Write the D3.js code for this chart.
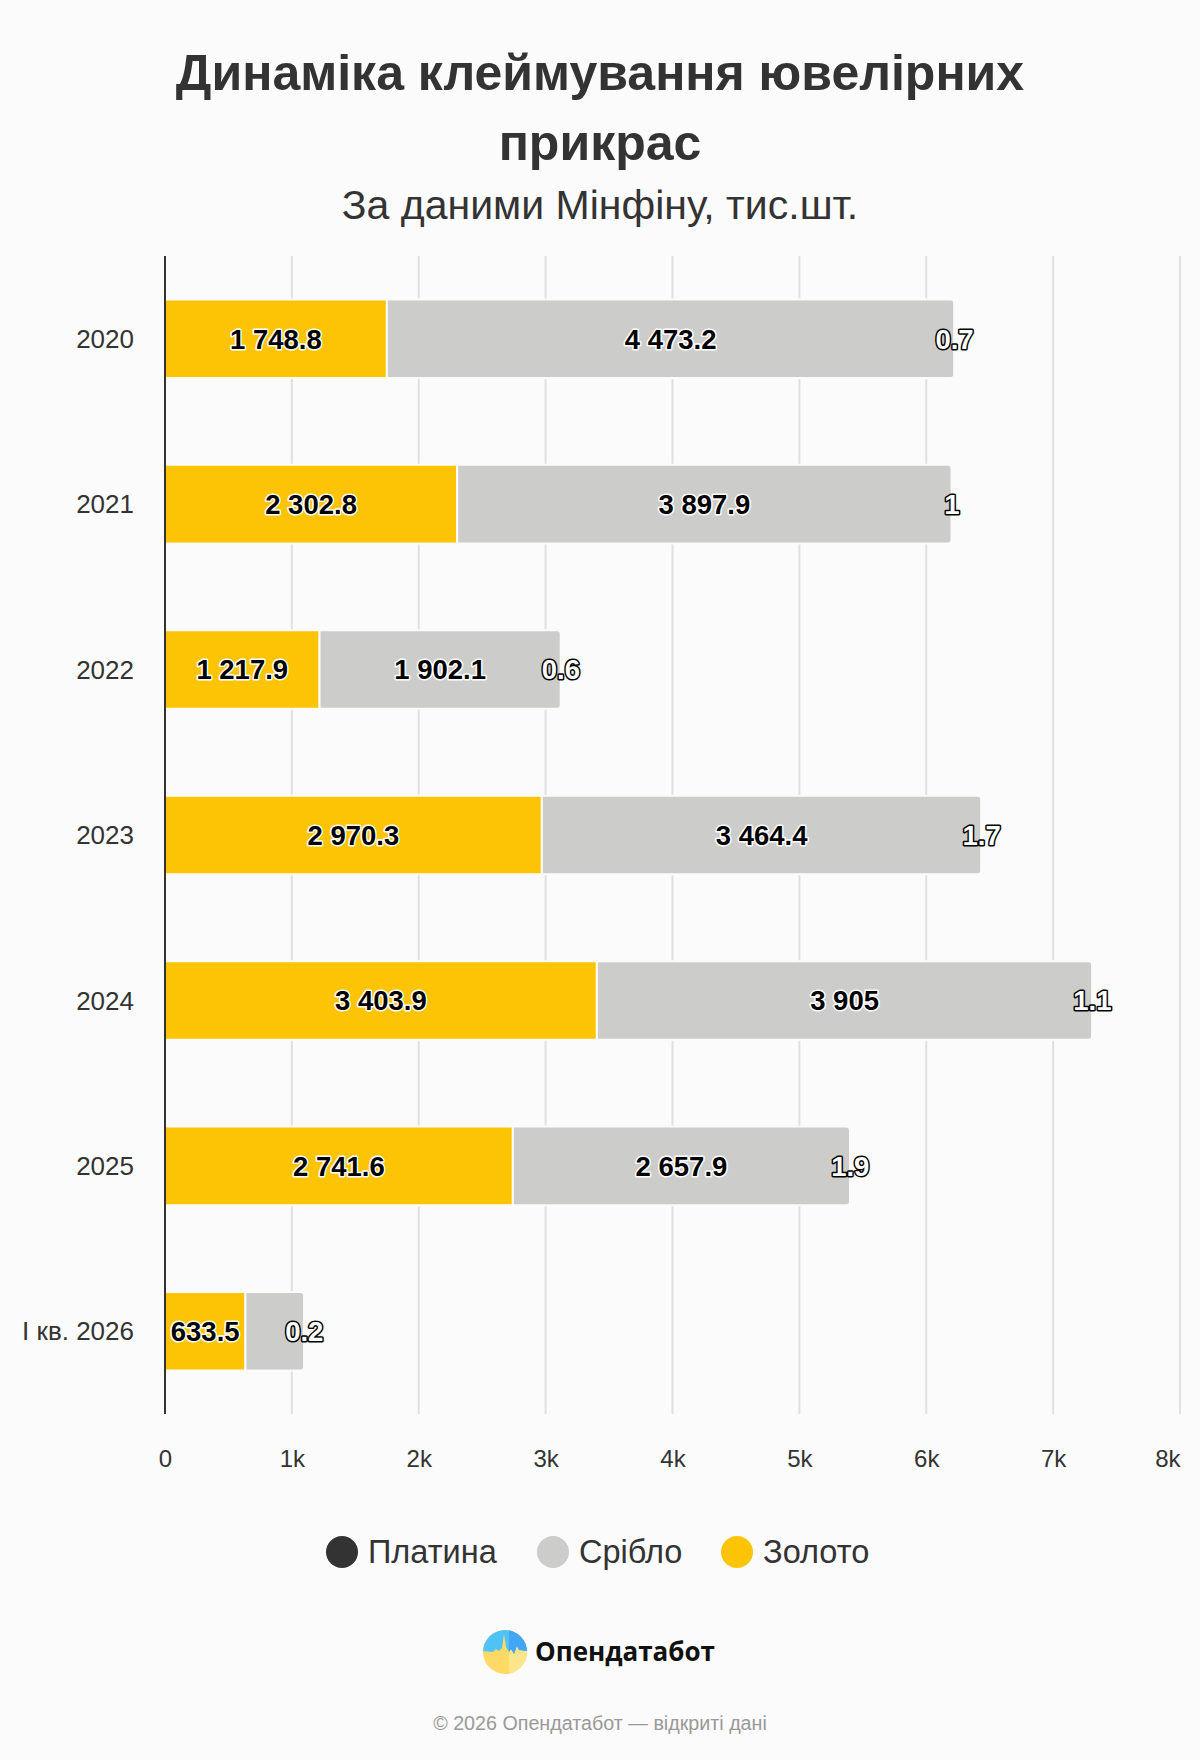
<!DOCTYPE html>
<html>
<head>
<meta charset="utf-8">
<script src="https://cdn.jsdelivr.net/npm/d3@7"></script>
<style>
  html, body { margin: 0; padding: 0; background: #fafbfa; }
  svg text { font-family: "Liberation Sans", Arial, Helvetica, sans-serif; }
</style>
</head>
<body>
<div id="chart"></div>
<script>
// data
const years = ["2020", "2021", "2022", "2023", "2024", "2025", "I кв. 2026"];
const gold = [1748.8, 2302.8, 1217.9, 2970.3, 3403.9, 2741.6, 633.5];
const silver = [4473.2, 3897.9, 1902.1, 3464.4, 3905, 2657.9, 464];
const platinum = [0.7, 1, 0.6, 1.7, 1.1, 1.9, 0.2];
const xTicks = [0, 1000, 2000, 3000, 4000, 5000, 6000, 7000, 8000];

const seriesNames = ["Золото", "Срібло", "Платина"];
const seriesColors = ["#fcc404", "#cccdca", "#333333"];
const legendOrder = ["Платина", "Срібло", "Золото"];

const W = 1200, H = 1760;
const margin = { top: 256, right: 20, bottom: 346, left: 165 };

const svg = d3.select("#chart").append("svg")
    .attr("width", W)
    .attr("height", H);

svg.append("rect").attr("width", W).attr("height", H).attr("fill", "#fafbfa");

// title
svg.append("text")
    .attr("x", W / 2).attr("y", 90)
    .attr("text-anchor", "middle")
    .style("font-size", "50px").style("font-weight", "bold").attr("fill", "#333")
    .text("Динаміка клеймування ювелірних");
svg.append("text")
    .attr("x", W / 2).attr("y", 160)
    .attr("text-anchor", "middle")
    .style("font-size", "50px").style("font-weight", "bold").attr("fill", "#333")
    .text("прикрас");
svg.append("text")
    .attr("x", W / 2).attr("y", 219)
    .attr("text-anchor", "middle")
    .style("font-size", "41px").attr("fill", "#333")
    .text("За даними Мінфіну, тис.шт.");

const width = 1180 - margin.left;
const height = 1414 - margin.top;

const g = svg.append("g").attr("transform", `translate(${margin.left},${margin.top})`);

const x = d3.scaleLinear().domain([0, 8000]).range([0, width]);
const y = d3.scaleBand().domain(years).range([0, height]).paddingInner(0.525).paddingOuter(0.2625);
const color = d3.scaleOrdinal().domain(seriesNames).range(seriesColors);

// gridlines
g.append("g")
  .selectAll("line")
  .data(xTicks.slice(1))
  .enter().append("line")
    .attr("x1", d => x(d)).attr("x2", d => x(d))
    .attr("y1", 0).attr("y2", height)
    .attr("stroke", "#e0e0e0").attr("stroke-width", 2);

// stacked rows
const rows = years.map((yr, i) => ({ year: yr, "Золото": gold[i], "Срібло": silver[i], "Платина": platinum[i] }));
const stack = d3.stack().keys(seriesNames)(rows);

const seg = g.append("g").selectAll("g")
  .data(stack)
  .enter().append("g")
    .attr("fill", d => color(d.key));

seg.selectAll("path")
  .data(d => d.map(p => ({ key: d.key, x0: p[0], x1: p[1], year: p.data.year })))
  .enter().append("path")
    .attr("stroke", "#fafbfa").attr("stroke-width", 2)
    .attr("d", d => {
      const x0 = x(d.x0), x1 = x(d.x1), y0 = y(d.year), h = y.bandwidth();
      const w = x1 - x0;
      if (d.key === "Срібло") {
        // right side rounded (end of visible bar)
        const r = Math.min(4, w / 2);
        return `M${x0},${y0}H${x1 - r}Q${x1},${y0} ${x1},${y0 + r}V${y0 + h - r}Q${x1},${y0 + h} ${x1 - r},${y0 + h}H${x0}Z`;
      }
      return `M${x0},${y0}H${x1}V${y0 + h}H${x0}Z`;
    });

// y axis line
g.append("line")
    .attr("x1", 0).attr("x2", 0).attr("y1", 0).attr("y2", height)
    .attr("stroke", "#333").attr("stroke-width", 2);

// y labels
g.append("g").selectAll("text")
  .data(years)
  .enter().append("text")
    .attr("x", -31)
    .attr("y", d => y(d) + y.bandwidth() / 2)
    .attr("dy", "0.35em")
    .attr("text-anchor", "end")
    .style("font-size", "26px").attr("fill", "#333")
    .text(d => d);

// x tick labels
const xAxis = g.append("g")
    .attr("transform", `translate(0,${height})`)
    .call(d3.axisBottom(x).tickValues(xTicks).tickSize(0).tickPadding(36)
      .tickFormat(d => d === 0 ? "0" : (d / 1000) + "k"));
xAxis.select(".domain").remove();
xAxis.selectAll("text")
    .style("font-size", "24px").attr("fill", "#333")
    .style("font-family", "'Liberation Sans', Arial, sans-serif");
xAxis.selectAll(".tick").filter(d => d === 8000).select("text").attr("text-anchor", "end").attr("x", 0);

// data labels
const fmt = v => d3.format(",")(v).replace(/,/g, " ");
const labels = [];
stack.forEach(s => {
  s.forEach(p => {
    const isPlat = s.key === "Платина";
    labels.push({
      key: s.key,
      year: p.data.year,
      value: p[1] - p[0],
      cx: isPlat ? x(p[1]) : x((p[0] + p[1]) / 2),
      isPlat: isPlat
    });
  });
});

const lab = g.append("g").selectAll("text")
  .data(labels)
  .enter().append("text")
    .attr("x", d => d.cx)
    .attr("y", d => y(d.year) + y.bandwidth() / 2)
    .attr("dy", "0.36em")
    .attr("text-anchor", "middle")
    .style("font-size", "27.5px").style("font-weight", "bold")
    .style("paint-order", "stroke")
    .attr("stroke-linejoin", "round")
    .attr("fill", d => d.isPlat ? "#fff" : "#000")
    .attr("stroke", d => d.isPlat ? "#000" : "#fff")
    .attr("stroke-width", 3)
    .text(d => fmt(d.value));

// hide labels that overlap a platinum label (as in the original)
const platBoxes = [];
lab.filter(d => d.isPlat).each(function(d) { platBoxes.push({ year: d.year, b: this.getBBox() }); });
lab.filter(d => !d.isPlat).each(function(d) {
  const b = this.getBBox();
  platBoxes.forEach(p => {
    if (p.year === d.year && b.x + b.width > p.b.x && b.x < p.b.x + p.b.width) {
      d3.select(this).remove();
    }
  });
});

// legend
const legendX = [342, 553, 737];
const legend = svg.append("g").selectAll("g")
  .data(legendOrder)
  .enter().append("g")
    .attr("transform", (d, i) => `translate(${legendX[i]},1552)`);
legend.append("circle").attr("r", 16).attr("fill", d => color(d));
legend.append("text")
    .attr("x", 26).attr("dy", "0.35em")
    .style("font-size", "32.5px").attr("fill", "#333")
    .text(d => d);

// logo
const logo = svg.append("g").attr("transform", "translate(505,1652)");
const defs = svg.append("defs");
defs.append("clipPath").attr("id", "logoClip").append("circle").attr("r", 22);
const lg = logo.append("g").attr("clip-path", "url(#logoClip)");
lg.append("rect").attr("x", -22).attr("y", -22).attr("width", 44).attr("height", 44).attr("fill", "#ffd966");
lg.append("rect").attr("x", 4).attr("y", -22).attr("width", 18).attr("height", 44).attr("fill", "#ffe58a");
lg.append("path")
    .attr("d", "M-22,-22H22V-1L14,-2L12,-6L9,2L6,-3L4,0L1,-5L-1,-18L-3,-4L-6,-1L-9,-3L-12,0L-22,-1Z")
    .attr("fill", "#4fc3f7");
lg.append("path")
    .attr("d", "M4,-22H22V-1L14,-2L12,-6L9,2L6,-3L4,0Z")
    .attr("fill", "#42a5f5");
svg.append("text")
    .attr("x", 535).attr("y", 1652).attr("dy", "0.35em")
    .style("font-size", "26px").style("font-weight", "bold").attr("fill", "#111")
    .style("font-family", "'Open Sans', sans-serif")
    .text("Опендатабот");

// footer
svg.append("text")
    .attr("x", W / 2).attr("y", 1723).attr("dy", "0.35em")
    .attr("text-anchor", "middle")
    .style("font-size", "19.7px").attr("fill", "#999")
    .text("© 2026 Опендатабот — відкриті дані");
</script>
</body>
</html>
